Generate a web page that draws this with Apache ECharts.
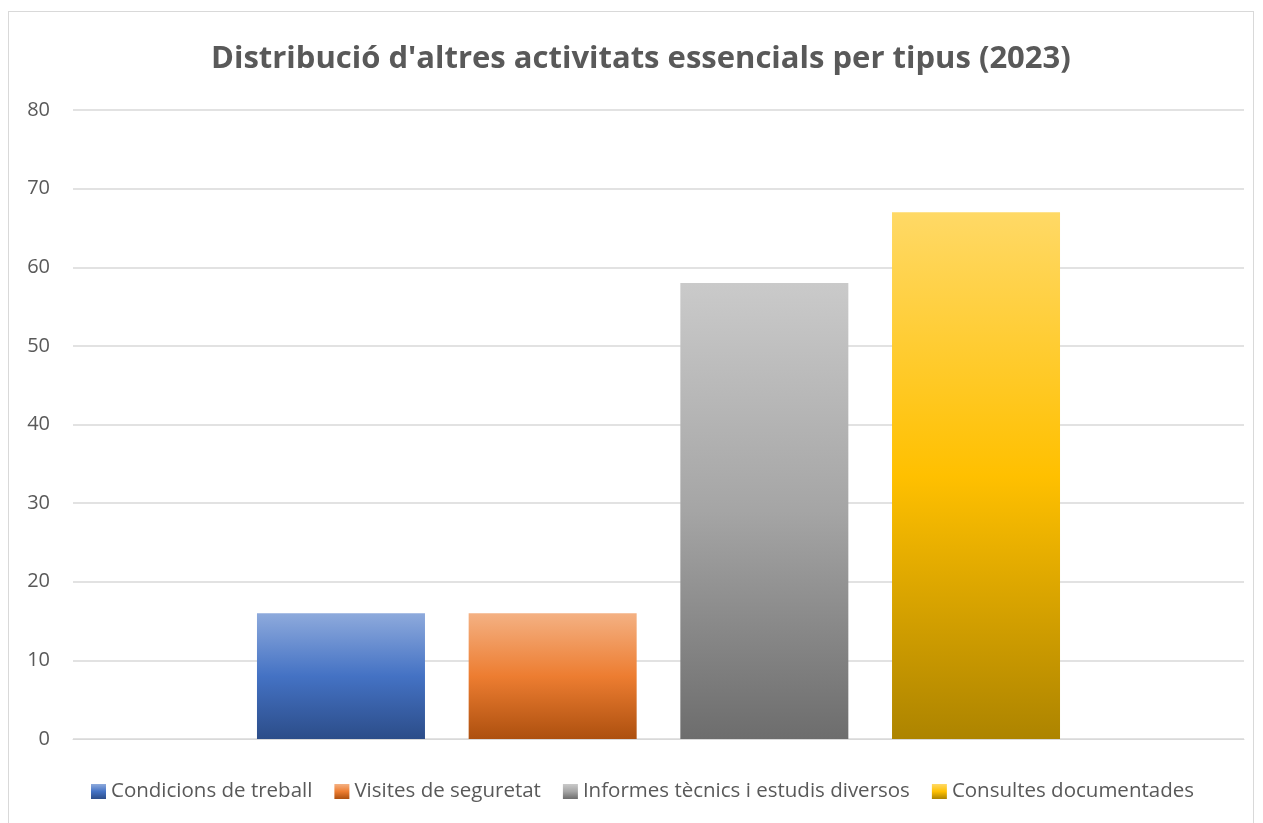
<!DOCTYPE html>
<html>
<head>
<meta charset="utf-8">
<script src="https://cdn.jsdelivr.net/npm/echarts@6/dist/echarts.min.js"></script>
<style>
  html, body { margin: 0; padding: 0; background: #fff; }
  #frame { position: absolute; left: 8px; top: 11px; width: 1246px; height: 820px; border: 1px solid #d9d9d9; box-sizing: border-box; }
  #chart { position: absolute; left: 0; top: 0; width: 1263px; height: 823px; }
</style>
</head>
<body>
<div id="frame"></div>
<div id="chart"></div>
<script>
// dades
const titol = "Distribució d'altres activitats essencials per tipus (2023)";
const categories = [''];
const seriesNames = ['Condicions de treball', 'Visites de seguretat', 'Informes tècnics i estudis diversos', 'Consultes documentades'];
const seriesValues = [[16], [16], [58], [67]];
const yTicks = [0, 10, 20, 30, 40, 50, 60, 70, 80];

// colors (clar, base, fosc)
const palette = [
    ['#8eaadc', '#4472c4', '#2c4d89'],
    ['#f4b183', '#ed7d31', '#ad500f'],
    ['#cacaca', '#a5a5a5', '#6d6d6d'],
    ['#ffd966', '#ffc000', '#ad8400']
];

const grad = function (c) {
    return new echarts.graphic.LinearGradient(0, 0, 0, 1, [
        { offset: 0, color: c[0] },
        { offset: 0.5, color: c[1] },
        { offset: 1, color: c[2] }
    ]);
};

const chart = echarts.init(document.getElementById('chart'));

const option = {
    animation: false,
    title: {
        text: titol,
        left: 206,
        top: 39,
        textStyle: {
            fontFamily: 'Open Sans',
            fontSize: 31,
            fontWeight: 'bold',
            color: '#595959'
        }
    },
    legend: {
        data: seriesNames,
        bottom: 16,
        left: 86,
        itemWidth: 15,
        itemHeight: 15,
        itemGap: 22,
        icon: 'rect',
        textStyle: {
            fontFamily: 'Open Sans',
            fontSize: 20.5,
            color: '#595959'
        }
    },
    grid: {
        left: 73,
        right: 19,
        top: 110,
        bottom: 84,
        containLabel: false
    },
    xAxis: {
        type: 'category',
        data: categories,
        axisLine: { lineStyle: { color: '#d9d9d9', width: 1 } },
        axisTick: { show: false },
        axisLabel: { show: false }
    },
    yAxis: {
        type: 'value',
        min: yTicks[0],
        max: yTicks[yTicks.length - 1],
        interval: 10,
        axisLine: { show: false },
        axisTick: { show: false },
        axisLabel: {
            fontFamily: 'Open Sans',
            fontSize: 20,
            color: '#595959',
            margin: 23
        },
        splitLine: { lineStyle: { color: '#d9d9d9', width: 1.5 } }
    },
    series: seriesNames.map(function (name, i) {
        return {
            name: name,
            type: 'bar',
            data: seriesValues[i],
            barWidth: 168,
            barGap: '26%',
            itemStyle: { color: grad(palette[i]) }
        };
    })
};

chart.setOption(option);
</script>
</body>
</html>
